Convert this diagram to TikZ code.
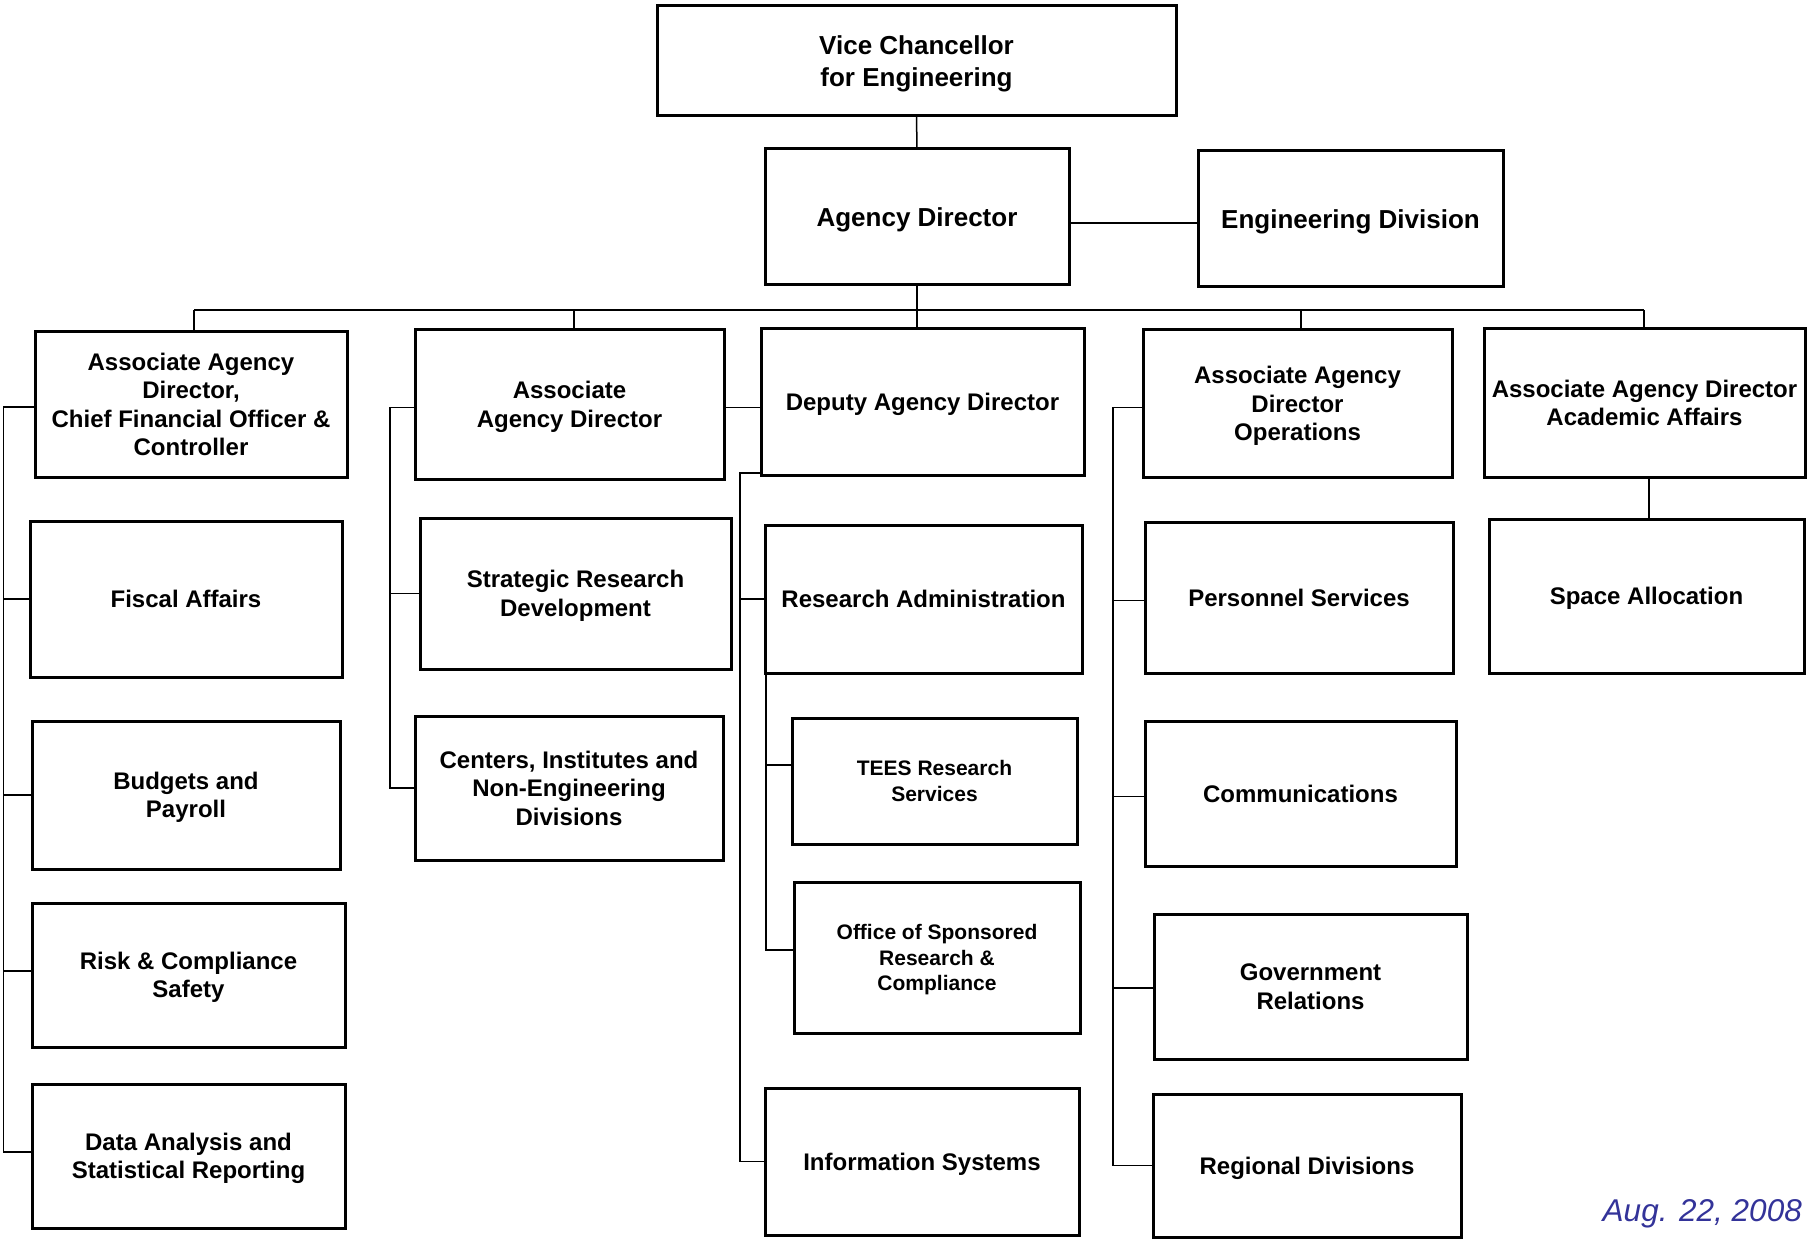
\documentclass[tikz,border=0pt]{standalone}
\usepackage{fontspec}
\setmainfont{Liberation Sans}
\definecolor{datecol}{RGB}{51,51,153}
\tikzset{
  orgbox/.style={draw, line width=3pt, inner sep=0pt, outer sep=0pt, align=center,
    text depth=-2pt, font=\bfseries\fontsize{24}{28.5}\selectfont},
  bigtext/.style={font=\bfseries\fontsize{26}{32}\selectfont},
  smalltext/.style={font=\bfseries\fontsize{21}{25.5}\selectfont},
  conn/.style={line width=1.5pt},
}
\begin{document}
\begin{tikzpicture}[x=1pt, y=-1pt]
\useasboundingbox (0,0) rectangle (1808,1241);
% top
\node[orgbox,bigtext,minimum width=519pt,minimum height=110pt] (VC) at (916.5,61) {Vice Chancellor\\for Engineering};
\node[orgbox,bigtext,minimum width=304pt,minimum height=136pt] (AD) at (917,217) {Agency Director};
\node[orgbox,bigtext,minimum width=305pt,minimum height=136pt] (ED) at (1350.5,219) {Engineering Division};
% row 1
\node[orgbox,minimum width=312pt,minimum height=145pt] (CFO) at (191,404.5) {Associate Agency\\Director,\\Chief Financial Officer \&\\Controller};
\node[orgbox,minimum width=309pt,minimum height=149pt] (AAD) at (569.5,404.5) {Associate\\Agency Director};
\node[orgbox,minimum width=323pt,minimum height=146pt] (Dep) at (922.5,402) {Deputy Agency Director};
\node[orgbox,minimum width=309pt,minimum height=147pt] (Ops) at (1297.5,403.5) {Associate Agency\\Director\\Operations};
\node[orgbox,minimum width=321pt,minimum height=148pt] (Acad) at (1644.5,403) {Associate Agency Director\\Academic Affairs};
% column 1
\node[orgbox,minimum width=312pt,minimum height=156pt] (Fis) at (186,599) {Fiscal Affairs};
\node[orgbox,minimum width=308pt,minimum height=148pt] (Bud) at (186,795) {Budgets and\\Payroll};
\node[orgbox,minimum width=313pt,minimum height=144pt] (Risk) at (188.5,975) {Risk \& Compliance\\Safety};
\node[orgbox,minimum width=313pt,minimum height=144pt] (Data) at (188.5,1156) {Data Analysis and\\Statistical Reporting};
% column 2
\node[orgbox,minimum width=311pt,minimum height=151pt] (Str) at (575.5,593.5) {Strategic Research\\Development};
\node[orgbox,minimum width=308pt,minimum height=144pt] (Cen) at (569,788) {Centers, Institutes and\\Non-Engineering\\Divisions};
% column 3
\node[orgbox,minimum width=317pt,minimum height=148pt] (RA) at (923.5,599) {Research Administration};
\node[orgbox,smalltext,minimum width=285pt,minimum height=126pt] (TEES) at (934.5,781) {TEES Research\\Services};
\node[orgbox,smalltext,minimum width=286pt,minimum height=151pt] (OSR) at (937,957.5) {Office of Sponsored\\Research \&\\Compliance};
\node[orgbox,minimum width=314pt,minimum height=147pt] (IS) at (922,1161.5) {Information Systems};
% column 4
\node[orgbox,minimum width=308pt,minimum height=151pt] (Per) at (1299,597.5) {Personnel Services};
\node[orgbox,minimum width=311pt,minimum height=145pt] (Com) at (1300.5,793.5) {Communications};
\node[orgbox,minimum width=313pt,minimum height=145pt] (Gov) at (1310.5,986.5) {Government\\Relations};
\node[orgbox,minimum width=308pt,minimum height=143pt] (Reg) at (1307,1165.5) {Regional Divisions};
% column 5
\node[orgbox,minimum width=315pt,minimum height=154pt] (Spa) at (1646.5,596) {Space Allocation};
% date
\node[anchor=base east, text=datecol, font=\itshape\fontsize{31.5}{38}\selectfont, inner sep=0pt] (date) at (1802,1221) {Aug. 22, 2008};

% connectors
\coordinate (bus) at (0,310);
\coordinate (c1) at (3.5,0);
\coordinate (c2) at (390,0);
\coordinate (c3) at (740,0);
\coordinate (c3b) at (766,0);
\coordinate (c4) at (1113,0);
\begin{scope}[conn]
\draw (VC.south) -- (AD.north);
\draw (AD.east |- 0,223) -- (ED.west |- 0,223);
\draw (AD.south) -- (AD.south |- Dep.north);
\draw (194,310) -- (1644,310);
\draw (194,310) -- (194,0 |- CFO.north);
\draw (574,310) -- (574,0 |- AAD.north);
\draw (1301,310) -- (1301,0 |- Ops.north);
\draw (1644,310) -- (1644,0 |- Acad.north);
% col 1
\draw ([yshift=-2.5pt]CFO.west) -- ([yshift=-2.5pt]CFO.west -| c1) -- ([yshift=4pt]Data.west -| c1) -- ([yshift=4pt]Data.west);
\draw (Fis.west) -- (Fis.west -| c1);
\draw (Bud.west) -- (Bud.west -| c1);
\draw ([yshift=4pt]Risk.west) -- ([yshift=4pt]Risk.west -| c1);
% col 2
\draw ([yshift=-3pt]AAD.west) -- ([yshift=-3pt]AAD.west -| c2) -- (Cen.west -| c2) -- (Cen.west);
\draw (Str.west) -- (Str.west -| c2);
\draw ([yshift=-3pt]AAD.east) -- ([yshift=-3pt]AAD.east -| Dep.west);
% col 3
\draw ([yshift=2pt]Dep.south west) -- ([yshift=2pt]Dep.south west -| c3) -- (IS.west -| c3) -- (IS.west);
\draw (RA.west) -- (RA.west -| c3);
\draw (RA.south -| c3b) -- ([yshift=7.5pt]OSR.west -| c3b) -- ([yshift=7.5pt]OSR.west);
\draw ([yshift=16pt]TEES.west) -- ([yshift=16pt]TEES.west -| c3b);
% col 4
\draw ([yshift=-4pt]Ops.west) -- ([yshift=-4pt]Ops.west -| c4) -- (Reg.west -| c4) -- (Reg.west);
\draw ([yshift=-3pt]Per.west) -- ([yshift=-3pt]Per.west -| c4);
\draw ([yshift=-3pt]Com.west) -- ([yshift=-3pt]Com.west -| c4);
\draw ([yshift=-1.5pt]Gov.west) -- ([yshift=-1.5pt]Gov.west -| c4);
% col 5
\draw (1649,0 |- Spa.north) -- (1649,0 |- Acad.south);
\end{scope}
\end{tikzpicture}
\end{document}
